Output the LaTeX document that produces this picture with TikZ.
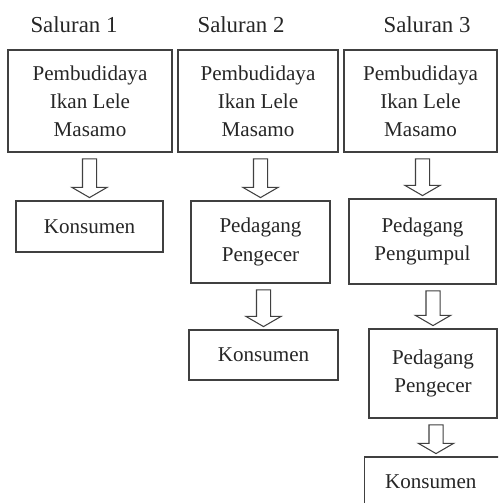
\documentclass[tikz,border=0pt]{standalone}
\usepackage{fontspec}
\setmainfont{Liberation Serif}
\usetikzlibrary{calc}
\newcommand{\panah}[2]{%
  \draw[panahblok] let \p1=(#1.south), \p2=(#2.north) in
    (\x2-4pt,\y1-3.6pt) -- (\x2-4pt,\y2+7.4pt) -- (\x2-10pt,\y2+7.4pt) --
    (\x2,\y2+1.6pt) -- (\x2+10pt,\y2+7.4pt) -- (\x2+4pt,\y2+7.4pt) --
    (\x2+4pt,\y1-3.6pt) -- cycle;}
\begin{document}
\begin{tikzpicture}[x=0.02cm,y=-0.02cm,
    kotak/.style={draw=black!75,line width=0.7pt,align=center,text=black!85,
      font=\fontsize{12}{16}\selectfont,inner sep=0pt},
    judul/.style={text=black!85,font=\fontsize{13}{16}\selectfont},
    panahblok/.style={draw=black!75,line width=0.6pt,fill=white,line join=miter}]
    \useasboundingbox (0,0) rectangle (498,503);
    \clip (0,0) rectangle (498,503);
    \node[judul] (s1) at (74,25) {Saluran 1};
    \node[judul] (s2) at (241,25) {Saluran 2};
    \node[judul] (s3) at (427,25) {Saluran 3};
    \node[kotak,minimum width=3.28cm,minimum height=2.04cm] (b1) at (90,101) {Pembudidaya\\Ikan Lele\\Masamo};
    \node[kotak,minimum width=3.2cm,minimum height=2.04cm] (b2) at (258,101) {Pembudidaya\\Ikan Lele\\Masamo};
    \node[kotak,minimum width=3.06cm,minimum height=2.04cm] (b3) at (420.5,101) {Pembudidaya\\Ikan Lele\\Masamo};
    \node[kotak,minimum width=2.94cm,minimum height=1.02cm] (k1) at (89.5,226.5) {Konsumen};
    \node[kotak,minimum width=2.78cm,minimum height=1.64cm] (e2) at (260.5,242) {Pedagang\\Pengecer};
    \node[kotak,minimum width=2.98cm,minimum height=1.0cm] (k2) at (263.5,355) {Konsumen};
    \node[kotak,minimum width=2.94cm,minimum height=1.7cm] (u3) at (422.5,241.5) {Pedagang\\Pengumpul};
    \node[kotak,minimum width=2.56cm,minimum height=1.78cm] (e3) at (433,373.5) {Pedagang\\Pengecer};
    \node[kotak,minimum width=2.86cm,minimum height=1.0cm] (k3) at (436,482) {Konsumen\hspace{6pt}};
    \panah{b1}{k1}
    \panah{b2}{e2}
    \panah{e2}{k2}
    \panah{b3}{u3}
    \panah{u3}{e3}
    \panah{e3}{k3}
\end{tikzpicture}
\end{document}
